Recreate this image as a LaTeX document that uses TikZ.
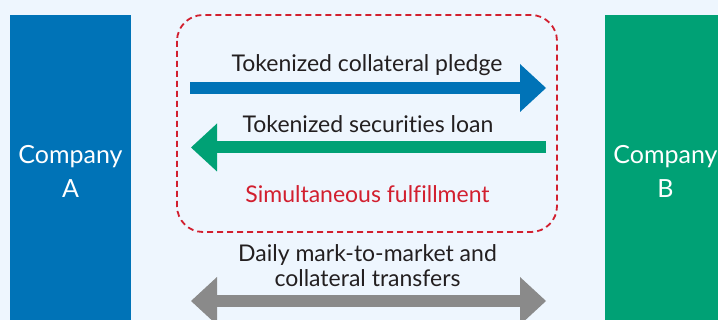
\documentclass[tikz,border=0pt]{standalone}
\usepackage{fontspec}
\setmainfont{Lato}[Ligatures={NoCommon,NoRequired,NoContextual}]
\usetikzlibrary{arrows.meta}
\definecolor{bgc}{RGB}{238,246,254}
\definecolor{blueA}{RGB}{0,115,183}
\definecolor{greenB}{RGB}{0,161,117}
\definecolor{redF}{RGB}{210,31,47}
\definecolor{grayT}{RGB}{138,138,138}
\definecolor{txt}{RGB}{35,31,32}
\tikzset{
  company/.style={inner sep=0pt, text=white, align=center, anchor=base, font=\fontsize{25}{34}\selectfont},
  label/.style={inner sep=0pt, text=txt, anchor=base, font=\fontsize{23}{25}\selectfont},
  fatarrow/.style={line width=12pt, -{Triangle[length=26pt,width=48pt,line width=0pt]}},
  fatdouble/.style={line width=12pt, {Triangle[length=26pt,width=48pt,line width=0pt]}-{Triangle[length=26pt,width=48pt,line width=0pt]}},
}
\begin{document}
\begin{tikzpicture}[x=1pt,y=-1pt]
\useasboundingbox (0,0) rectangle (718,320);
\clip (0,0) rectangle (718,320);
\fill[bgc] (0,0) rectangle (718,320);
% company boxes
\fill[blueA] (10,15) rectangle (131,330);
\fill[greenB] (605,15) rectangle (726,330);
\node[company] (ca) at (70.5,198) {Company\\A};
\node[company] (cb) at (665.5,198) {Company\\B};
% dashed frame
\draw[redF, line width=1.8pt, dash pattern=on 6pt off 4pt, rounded corners=26pt] (177,15) rectangle (557,232);
% arrows
\coordinate (b1) at (190,88);
\coordinate (b2) at (546,88);
\draw[blueA, fatarrow] (b1) -- (b2);
\coordinate (g1) at (546,147.5);
\coordinate (g2) at (191,147.5);
\draw[greenB, fatarrow] (g1) -- (g2);
\coordinate (d1) at (191,301);
\coordinate (d2) at (546,301);
\draw[grayT, fatdouble] (d1) -- (d2);
% labels
\node[label] (l1) at (367,72) {Tokenized collateral pledge};
\node[label] (l2) at (368,133) {Tokenized securities loan};
\node[label, text=redF] (l3) at (367.5,203) {Simultaneous fulfillment};
\node[label, align=center] (l4) at (367.5,287) {Daily mark-to-market and\\collateral transfers};
\end{tikzpicture}
\end{document}
